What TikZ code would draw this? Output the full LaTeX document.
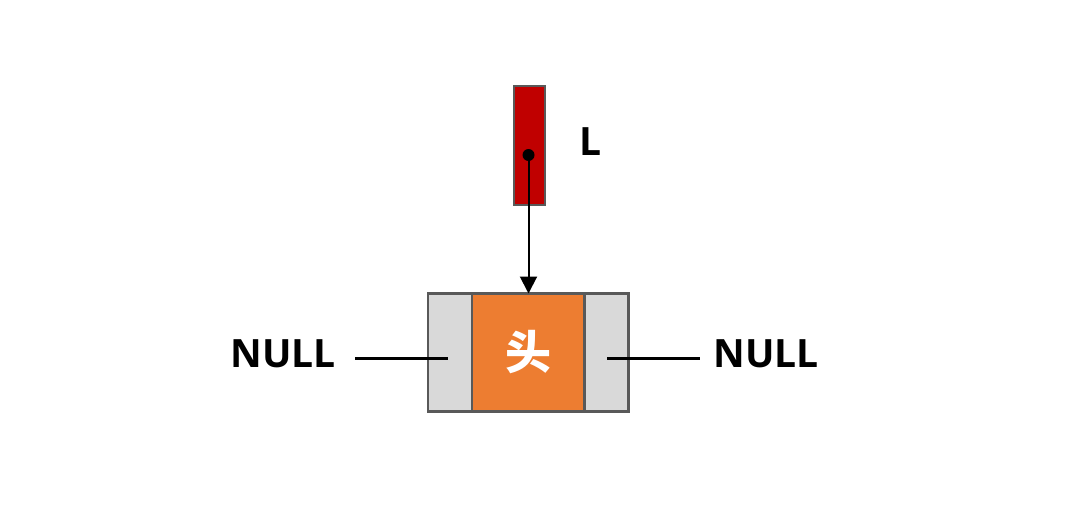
\documentclass[tikz,border=0pt]{standalone}
\usepackage{fontspec}
\setmainfont{Open Sans}
\newfontfamily\cjk{Noto Sans CJK SC}
\usetikzlibrary{arrows.meta}
\definecolor{redbox}{HTML}{C00000}
\definecolor{orangebox}{HTML}{ED7D31}
\definecolor{graybox}{HTML}{D9D9D9}
\definecolor{edge}{HTML}{595959}
\begin{document}
\begin{tikzpicture}[x=1pt,y=-1pt,
  cell/.style={draw=edge,line width=2.5pt,minimum height=118pt,inner sep=0pt,outer sep=0pt},
  lbl/.style={font=\fontsize{39}{41}\selectfont\bfseries,inner sep=0pt},
  conn/.style={line width=3pt}]
\useasboundingbox (0,0) rectangle (1067,524);
\node[draw=edge,fill=redbox,line width=2pt,minimum width=31pt,minimum height=118pt,inner sep=0pt,outer sep=0pt] (ptr) at (529,145.5) {};
\coordinate (dot) at (528.5,155);
\node[lbl] (L) at (591,142) {L};
\node[cell,fill=graybox,minimum width=44pt] (lg) at (450,352.5) {};
\node[cell,fill=orangebox,minimum width=113pt] (head) at (528.5,352.5) {};
\node[cell,fill=graybox,minimum width=44pt] (rg) at (606.5,352.5) {};
\node[text=white,font=\cjk\fontsize{46}{48}\selectfont\bfseries,inner sep=0pt] at (head.center) {头};
\fill (dot) circle (6);
\draw[line width=2pt,-{Triangle[length=17pt,width=17pt]}] (dot) -- (dot |- head.north);
\node[lbl] (nl) at (283,354) {NULL};
\node[lbl] (nr) at (766,354) {NULL};
\coordinate (la) at (355,358);
\coordinate (lb) at (448,358);
\coordinate (ra) at (607,358);
\coordinate (rb) at (700,358);
\draw[conn] (la) -- (lb);
\draw[conn] (ra) -- (rb);
\end{tikzpicture}
\end{document}
